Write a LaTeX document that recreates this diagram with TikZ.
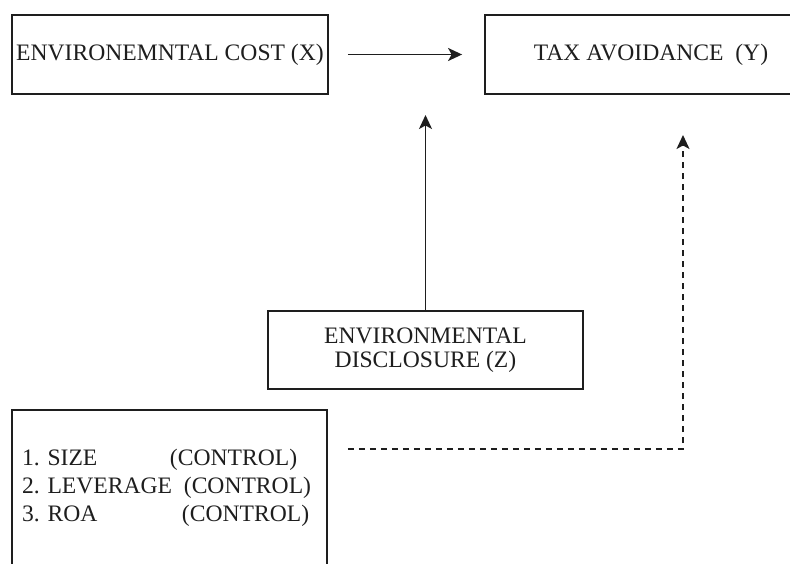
\documentclass[tikz,border=0pt]{standalone}
\usepackage{fontspec}
\setmainfont{Liberation Serif}
\usetikzlibrary{arrows.meta,calc}
\definecolor{ink}{RGB}{30,30,30}
\tikzset{
  box/.style={draw=ink, line width=1.8pt, align=center, inner sep=4pt, text=ink,
              font=\fontsize{23.6}{24}\selectfont},
  arr/.style={-{Stealth[length=14pt,width=13pt,inset=3.5pt]}, line width=1.7pt, draw=ink},
  darr/.style={arr, dash pattern=on 6pt off 5pt},
}

\begin{document}
\frenchspacing
\begin{tikzpicture}[x=1pt,y=1pt]
  \useasboundingbox (0,0) rectangle (790,563);
  \clip (0,0) rectangle (790,563);

  \node[box, minimum width=316pt, minimum height=79pt] (envcost) at (170,508.5)
    {ENVIRONEMNTAL COST (X)};
  \node[box, minimum width=332pt, minimum height=79pt] (taxavoid) at (651,508.5)
    {TAX AVOIDANCE\ \ (Y)};
  \node[box, minimum width=315pt, minimum height=78pt] (envdisc) at (425.5,213)
    {ENVIRONMENTAL\\ DISCLOSURE (Z)};
  \node[box, align=left, text width=295pt, inner sep=10pt, minimum height=156pt,
        font=\fontsize{23.6}{28}\selectfont] (controls) at (169.5,75)
    {\makebox[148pt][l]{1. SIZE}(CONTROL)\\
     2. LEVERAGE\ \,(CONTROL)\\
     \makebox[160pt][l]{3. ROA}(CONTROL)};

  % free ends of the arrows
  \coordinate (modpt) at (425.5,448);
  \coordinate (dtip) at (683,428);

  \draw[arr, shorten <=19pt, shorten >=22pt] (envcost) -- (taxavoid);
  \draw[arr] (envdisc) -- (modpt);
  \draw[darr] ([xshift=20pt,yshift=39pt]controls.east) -| (dtip);
\end{tikzpicture}
\end{document}
